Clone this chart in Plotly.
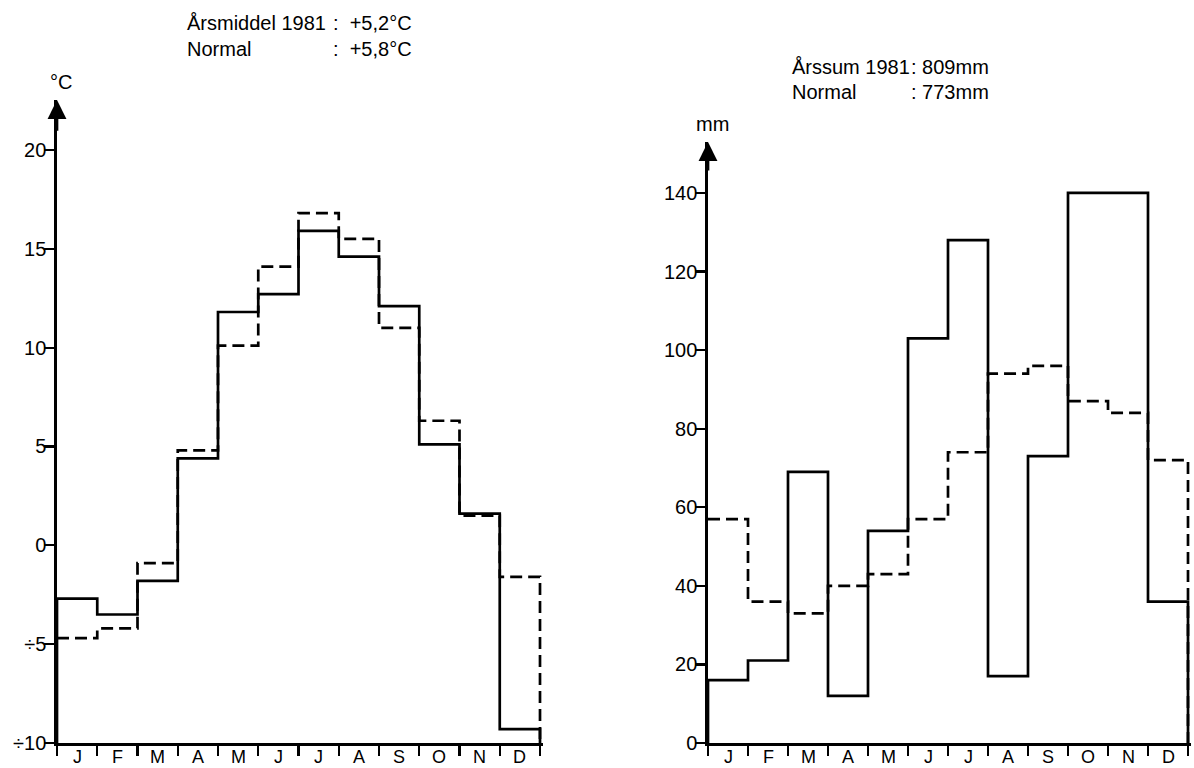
import plotly.graph_objects as go

# ---------------- data ----------------
months = ["J", "F", "M", "A", "M", "J", "J", "A", "S", "O", "N", "D"]

temp_1981 = [-2.7, -3.5, -1.8, 4.4, 11.8, 12.7, 15.9, 14.6, 12.1, 5.1, 1.6, -9.3]
temp_normal = [-4.7, -4.2, -0.9, 4.8, 10.1, 14.1, 16.8, 15.5, 11.0, 6.3, 1.5, -1.6]

precip_1981 = [16, 21, 69, 12, 54, 103, 128, 17, 73, 140, 140, 36]
precip_normal = [57, 36, 33, 40, 43, 57, 74, 94, 96, 87, 84, 72]

temp_ticks = [-10, -5, 0, 5, 10, 15, 20]
temp_ticktext = ["÷10", "÷5", "0", "5", "10", "15", "20"]
precip_ticks = [0, 20, 40, 60, 80, 100, 120, 140]
precip_ticktext = ["0", "20", "40", "60", "80", "100", "120", "140"]

temp_title = [("Årsmiddel 1981", ": +5,2°C"), ("Normal", ": +5,8°C")]
precip_title = [("Årssum 1981", ": 809mm"), ("Normal", ": 773mm")]

# ---------------- geometry helpers ----------------
W, H = 1194, 768
FONT = "Liberation Sans"


def px(x):
    return x / W


def py(y):
    return 1 - y / H


def step_solid(vals, base):
    n = len(vals)
    xs = [0] + list(range(n + 1)) + [n]
    ys = [base] + list(vals) + [vals[-1], base]
    return xs, ys


def step_dashed(vals, base):
    n = len(vals)
    xs = list(range(n + 1)) + [n]
    ys = list(vals) + [vals[-1], base]
    return xs, ys


fig = go.Figure()

LW = 2.7
DASH = "12px,6px"

# left chart (temperature)
t_base = temp_ticks[0]
xs, ys = step_dashed(temp_normal, t_base)
fig.add_trace(go.Scatter(x=xs, y=ys, mode="lines", line=dict(color="black", width=LW, dash=DASH, shape="hv"),
                         xaxis="x", yaxis="y", hoverinfo="skip"))
xs, ys = step_solid(temp_1981, t_base)
fig.add_trace(go.Scatter(x=xs, y=ys, mode="lines", line=dict(color="black", width=LW, shape="hv"),
                         xaxis="x", yaxis="y", hoverinfo="skip"))

# right chart (precipitation)
p_base = precip_ticks[0]
xs, ys = step_dashed(precip_normal, p_base)
fig.add_trace(go.Scatter(x=xs, y=ys, mode="lines", line=dict(color="black", width=LW, dash=DASH, shape="hv"),
                         xaxis="x2", yaxis="y2", hoverinfo="skip"))
xs, ys = step_solid(precip_1981, p_base)
fig.add_trace(go.Scatter(x=xs, y=ys, mode="lines", line=dict(color="black", width=LW, shape="hv"),
                         xaxis="x2", yaxis="y2", hoverinfo="skip"))

n = len(months)
mid = [i + 0.5 for i in range(n)]

# pixel layout
L_x0, L_unit = 57, 40.25
R_x0, R_unit = 708, 40.0
X_EXT = 12.08
base_y = 743
L_top = 100
R_top = 142
L_range = [-10, -10 + (base_y - L_top) / 19.77]
R_range = [0, (base_y - R_top) / 3.929]

axis_common = dict(showline=True, linecolor="black", linewidth=LW, showgrid=False, zeroline=False,
                   automargin=False, fixedrange=True,
                   tickfont=dict(family=FONT, size=20, color="black"))

xcommon = dict(axis_common, tickmode="array", tickvals=mid, showticklabels=False, ticks="",
               minor=dict(ticks="outside", tick0=0, dtick=1, ticklen=10, tickwidth=2.2, tickcolor="black"),
               range=[0, X_EXT])

fig.update_layout(
    width=W, height=H,
    margin=dict(l=0, r=0, t=0, b=0, autoexpand=False),
    paper_bgcolor="white", plot_bgcolor="white",
    showlegend=False,
    xaxis=dict(xcommon, domain=[px(L_x0), px(L_x0 + X_EXT * L_unit)], anchor="y"),
    yaxis=dict(axis_common, domain=[py(base_y), py(L_top)], range=L_range, anchor="x",
               tickmode="array", tickvals=temp_ticks, ticktext=temp_ticktext,
               ticks="outside", ticklen=10, tickwidth=2.2, tickcolor="black"),
    xaxis2=dict(xcommon, domain=[px(R_x0), px(R_x0 + X_EXT * R_unit)], anchor="y2"),
    yaxis2=dict(axis_common, domain=[py(base_y), py(R_top)], range=R_range, anchor="x2",
                tickmode="array", tickvals=precip_ticks, ticktext=precip_ticktext,
                ticks="outside", ticklen=10, tickwidth=2.2, tickcolor="black"),
)
try:
    fig.update_yaxes(ticklabelstandoff=-6)
except Exception:
    pass

ann = []
tf = dict(family=FONT, size=20, color="black")

# month labels below each x axis
for xr in ("x", "x2"):
    for m, name in zip(mid, months):
        ann.append(dict(x=m, y=py(767.5), xref=xr, yref="paper", text=name, showarrow=False, borderpad=0,
                        font=dict(family=FONT, size=18, color="black"), xanchor="center", yanchor="bottom"))

# axis arrows (decoration at top of each y axis)
for xr, yr, rng in (("x", "y", L_range), ("x2", "y2", R_range)):
    top = rng[1]
    tail = top - (rng[1] - rng[0]) * 0.05
    ann.append(dict(x=0, y=top, xref=xr, yref=yr, ax=0, ay=tail,
                    axref=xr, ayref=yr, showarrow=True, arrowhead=2, arrowsize=1.4, arrowwidth=LW,
                    arrowcolor="black", text="", standoff=0, startstandoff=0))

# unit labels
ann.append(dict(x=px(61), y=py(82), xref="paper", yref="paper", text="°C", showarrow=False,
                font=dict(family=FONT, size=20, color="black"), xanchor="center", yanchor="middle"))
ann.append(dict(x=px(712), y=py(124), xref="paper", yref="paper", text="mm", showarrow=False,
                font=dict(family=FONT, size=20, color="black"), xanchor="center", yanchor="middle"))

# titles
for (left, right), yy in zip(temp_title, (23, 49)):
    ann.append(dict(x=px(185), y=py(yy), xref="paper", yref="paper", text=left, showarrow=False,
                    font=tf, xanchor="left", yanchor="middle"))
    ann.append(dict(x=px(331), y=py(yy), xref="paper", yref="paper", text=right.replace(" ", "\u00a0\u00a0"),
                    showarrow=False, font=tf, xanchor="left", yanchor="middle"))
for (left, right), yy in zip(precip_title, (67, 92)):
    ann.append(dict(x=px(790), y=py(yy), xref="paper", yref="paper", text=left, showarrow=False,
                    font=tf, xanchor="left", yanchor="middle"))
    ann.append(dict(x=px(909), y=py(yy), xref="paper", yref="paper", text=right.replace(" ", "\u00a0"),
                    showarrow=False, font=tf, xanchor="left", yanchor="middle"))

fig.update_layout(annotations=ann)

css_js = (
    "var h=document.documentElement;h.style.margin='0';h.style.padding='0';"
    "h.style.height='768px';h.style.overflow='hidden';"
    "var b=document.body;b.style.margin='0';b.style.padding='0';"
    "b.style.height='768px';b.style.overflow='hidden';"
)
fig.write_html("out.html", config={"displayModeBar": False, "staticPlot": True}, post_script=css_js)
